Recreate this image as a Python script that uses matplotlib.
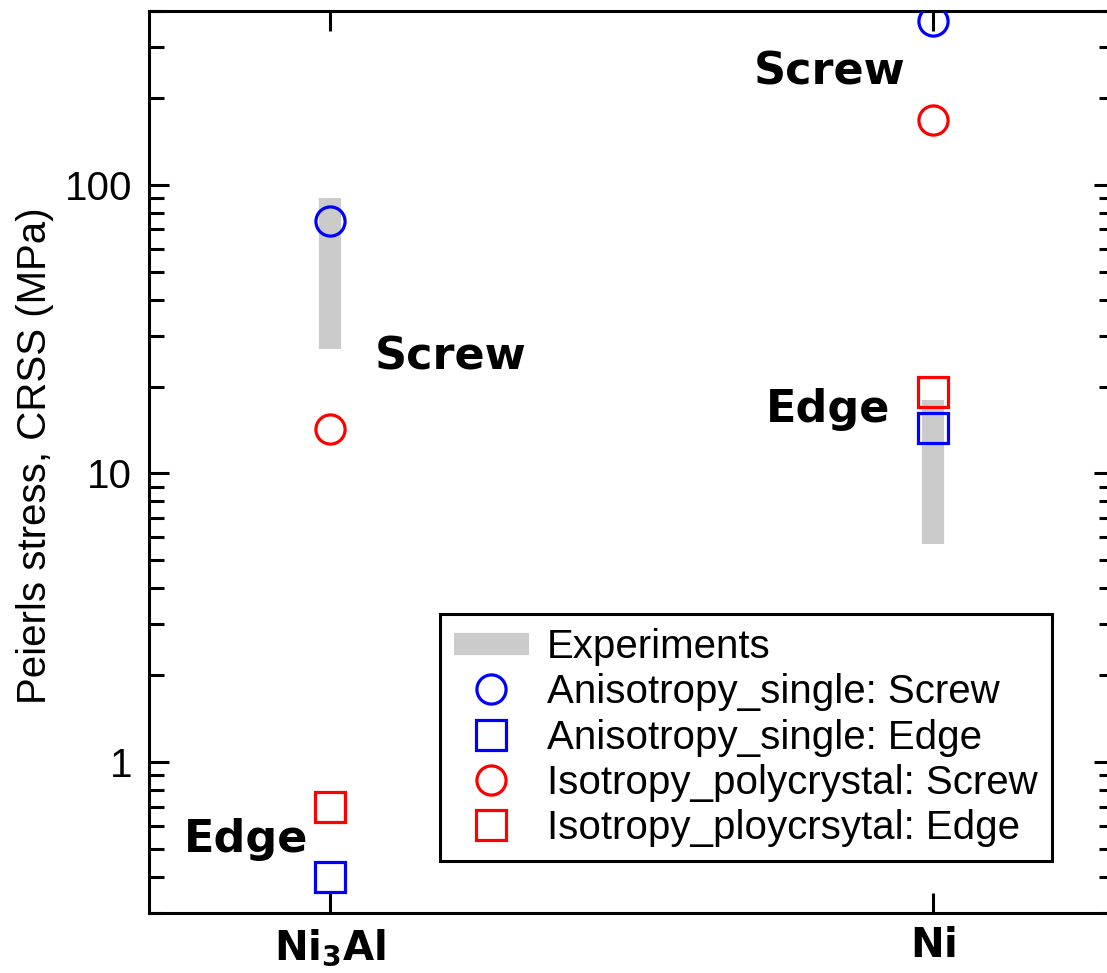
import matplotlib
matplotlib.use("Agg")
import matplotlib.pyplot as plt
from matplotlib.ticker import LogLocator, NullFormatter, FixedLocator, FixedFormatter

# ---- data ----
materials = [r"$\mathbf{Ni_3Al}$", r"$\mathbf{Ni}$"]
exp_low = [27, 5.7]
exp_high = [90, 18]
aniso_screw = [75, 370]
aniso_edge = [0.40, 14.4]
iso_screw = [14.2, 168]
iso_edge = [0.70, 19.2]
ytick_vals = [1, 10, 100]
ytick_labels = ["1", "10", "100"]
series_labels = ["Experiments",
                 "Anisotropy_single: Screw",
                 "Anisotropy_single: Edge",
                 "Isotropy_polycrystal: Screw",
                 "Isotropy_ploycrsytal: Edge"]

plt.rcParams['font.family'] = ['Liberation Sans', 'DejaVu Sans']
plt.rcParams['mathtext.fontset'] = 'dejavusans'

W, H = 1107, 973
fig = plt.figure(figsize=(W / 100, H / 100), dpi=100)
ax = fig.add_axes([149 / W, 1 - 913 / H, (1114 - 149) / W, (913 - 11) / H])

x = list(range(len(materials)))

ax.vlines(x, exp_low, exp_high, colors='#cbcbcb', linewidth=16,
          label=series_labels[0], zorder=1, capstyle='butt')

ms = 21
mew = 2.3
ax.plot(x, aniso_screw, linestyle='none', marker='o', ms=ms, mew=mew,
        mfc='none', mec='#0000ff', label=series_labels[1], zorder=3)
ax.plot(x, aniso_edge, linestyle='none', marker='s', ms=ms, mew=mew,
        mfc='none', mec='#0000ff', label=series_labels[2], zorder=3)
ax.plot(x, iso_screw, linestyle='none', marker='o', ms=ms, mew=mew,
        mfc='none', mec='#ff0000', label=series_labels[3], zorder=3)
ax.plot(x, iso_edge, linestyle='none', marker='s', ms=ms, mew=mew,
        mfc='none', mec='#ff0000', label=series_labels[4], zorder=3)

ax.set_yscale('log')
ax.set_ylim(0.3, 400)
ax.set_xlim(-0.3, 1.3)

ax.yaxis.set_major_locator(FixedLocator(ytick_vals))
ax.yaxis.set_major_formatter(FixedFormatter(ytick_labels))
ax.yaxis.set_minor_locator(LogLocator(base=10, subs=range(2, 10)))
ax.yaxis.set_minor_formatter(NullFormatter())

ax.set_xticks(x)
ax.set_xticklabels(materials, fontsize=29)

ax.tick_params(axis='y', which='major', direction='in', length=14.5, width=2.2,
               labelsize=29, pad=12, left=True, right=True)
ax.tick_params(axis='y', which='minor', direction='in', length=10.5, width=2.2,
               left=True, right=True)
ax.tick_params(axis='x', which='major', direction='in', length=14.5, width=2.2,
               top=True, bottom=True, pad=10)
for sp in ax.spines.values():
    sp.set_linewidth(2.2)

ax.set_ylabel("Peierls stress, CRSS (MPa)", fontsize=29)
ax.yaxis.set_label_coords(-0.098, 0.5067)

bold = dict(fontsize=32, fontweight='bold', family='DejaVu Sans', va='baseline', ha='left')
ax.text(0.0746, 22.9, "Screw", **bold)
ax.text(-0.242, 0.488, "Edge", **bold)
ax.text(0.703, 222, "Screw", **bold)
ax.text(0.723, 15.1, "Edge", **bold)

leg = ax.legend(loc='upper left', bbox_to_anchor=(440 / W, 1 - 614 / H),
                bbox_transform=fig.transFigure, fontsize=29, frameon=True,
                fancybox=False, edgecolor='black', framealpha=1,
                handlelength=1.85, handletextpad=0.45, labelspacing=0.18,
                borderpad=0.35, borderaxespad=0)
leg.get_frame().set_linewidth(2.2)

fig.savefig("out.png", dpi=100)
